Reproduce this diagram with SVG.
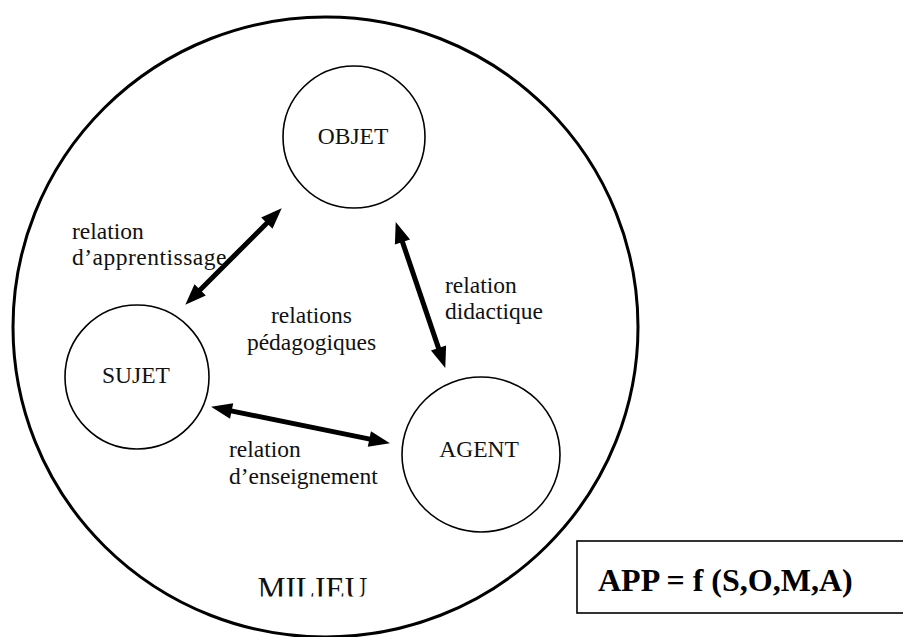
<svg xmlns="http://www.w3.org/2000/svg" width="903" height="637" viewBox="0 0 903 637">
<style>
.node{fill:none;stroke:#000;stroke-width:1.6}
.lbl{font-family:"Liberation Serif","Times New Roman",serif;font-size:23.5px;fill:#111}
.mid{text-anchor:middle}
.conn{stroke:#000;stroke-width:5;fill:none;marker-start:url(#ah);marker-end:url(#ah)}
</style>
<defs>
<marker id="ah" markerUnits="userSpaceOnUse" markerWidth="22" markerHeight="18" refX="8" refY="8" orient="auto-start-reverse" viewBox="0 0 22 18" overflow="visible">
<path d="M0,0 L21,8 L0,16 z" fill="#000"/>
</marker>
<clipPath id="milclip"><rect x="200" y="560" width="220" height="36.5"/></clipPath>
</defs>
<rect width="903" height="637" fill="#fff"/>
<g id="milieu">
<ellipse cx="325.5" cy="327" rx="312.5" ry="310" fill="none" stroke="#000" stroke-width="3"/>
<text class="lbl mid" x="312.5" y="599" style="font-size:31.5px" clip-path="url(#milclip)">MILIEU</text>
</g>
<g id="objet">
<circle class="node" cx="354" cy="137" r="71"/>
<text class="lbl mid" x="353" y="144">OBJET</text>
</g>
<g id="sujet">
<circle class="node" cx="137" cy="377" r="72"/>
<text class="lbl mid" x="136" y="383">SUJET</text>
</g>
<g id="agent">
<ellipse class="node" cx="481" cy="454.5" rx="79" ry="77.5"/>
<text class="lbl mid" x="479" y="457">AGENT</text>
</g>
<g id="connectors">
<line class="conn" x1="194.5" y1="295.5" x2="272.5" y2="217.5"/>
<line class="conn" x1="399.9" y1="234.4" x2="441.1" y2="355.6"/>
<line class="conn" x1="223.8" y1="409.4" x2="377.2" y2="440.6"/>
</g>
<g id="labels">
<text class="lbl" x="72" y="239">relation</text>
<text class="lbl" x="72" y="265" style="letter-spacing:0.5px">d’apprentissage</text>
<text class="lbl" x="445" y="293">relation</text>
<text class="lbl" x="445" y="319">didactique</text>
<text class="lbl mid" x="311.5" y="323">relations</text>
<text class="lbl mid" x="311.5" y="350">pédagogiques</text>
<text class="lbl" x="229" y="457">relation</text>
<text class="lbl" x="229" y="484">d’enseignement</text>
</g>
<g id="formula">
<rect x="577" y="541" width="340" height="72" fill="none" stroke="#000" stroke-width="1.6"/>
<text x="598" y="591" style="font-family:'Liberation Serif','Times New Roman',serif;font-size:32px;font-weight:bold" fill="#000">APP = f (S,O,M,A)</text>
</g>
</svg>
